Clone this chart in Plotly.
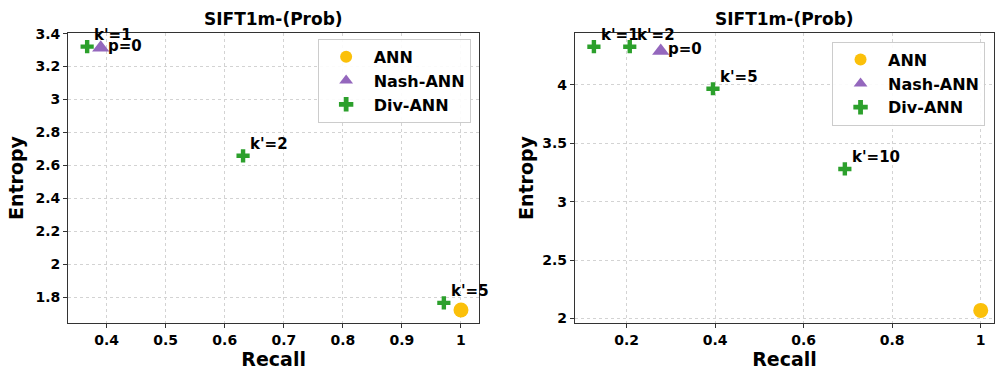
import plotly.graph_objects as go

title = "SIFT1m-(Prob)"

# Left panel data
l_ann_x, l_ann_y = [1.0], [1.721]
l_nash_x, l_nash_y, l_nash_lab = [0.39], [3.315], ["p=0"]
l_div_x = [0.367, 0.631, 0.971]
l_div_y = [3.321, 2.658, 1.764]
l_div_lab = ["k'=1", "k'=2", "k'=5"]

# Right panel data
r_ann_x, r_ann_y = [1.0], [2.07]
r_nash_x, r_nash_y, r_nash_lab = [0.277], [4.29], ["p=0"]
r_div_x = [0.126, 0.207, 0.395, 0.693]
r_div_y = [4.326, 4.326, 3.966, 3.28]
r_div_lab = ["k'=1", "k'=2", "k'=5", "k'=10"]

C_ANN = "#FBC00A"
C_NASH = "#9467BD"
C_DIV = "#2CA02C"
FONT = "DejaVu Sans"

fig = go.Figure()

def add_panel(xa, ya, leg, ann, nash, div):
    fig.add_trace(go.Scatter(x=ann[0], y=ann[1], mode="markers", name="<b>ANN</b>",
                             marker=dict(symbol="circle", size=15, color=C_ANN),
                             xaxis=xa, yaxis=ya, legend=leg))
    fig.add_trace(go.Scatter(x=nash[0], y=nash[1], mode="markers", name="<b>Nash-ANN</b>",
                             marker=dict(symbol="triangle-up", size=15, color=C_NASH),
                             xaxis=xa, yaxis=ya, legend=leg))
    fig.add_trace(go.Scatter(x=div[0], y=div[1], mode="markers", name="<b>Div-ANN</b>",
                             marker=dict(symbol="cross", size=11, color=C_DIV),
                             xaxis=xa, yaxis=ya, legend=leg))
    for x, y, t in zip(nash[0], nash[1], nash[2]):
        fig.add_annotation(x=x, y=y, text="<b>%s</b>" % t, xref=xa, yref=ya,
                           showarrow=False, xanchor="left", yanchor="middle",
                           xshift=5, yshift=2, font=dict(size=15, color="black", family=FONT))
    for x, y, t in zip(div[0], div[1], div[2]):
        fig.add_annotation(x=x, y=y, text="<b>%s</b>" % t, xref=xa, yref=ya,
                           showarrow=False, xanchor="left", yanchor="middle",
                           xshift=5, yshift=12, font=dict(size=15, color="black", family=FONT))

add_panel("x", "y", "legend", (l_ann_x, l_ann_y), (l_nash_x, l_nash_y, l_nash_lab),
          (l_div_x, l_div_y, l_div_lab))
add_panel("x2", "y2", "legend2", (r_ann_x, r_ann_y), (r_nash_x, r_nash_y, r_nash_lab),
          (r_div_x, r_div_y, r_div_lab))

axis_common = dict(showline=True, linecolor="#333", linewidth=1.2, mirror=True,
                   ticks="outside", ticklen=4, tickcolor="#333",
                   showgrid=True, gridcolor="#d3d3d3", griddash="dot", gridwidth=1,
                   zeroline=False,
                   tickfont=dict(size=14, color="black", family=FONT))
title_font = dict(size=19, color="black", family=FONT)

legend_common = dict(bgcolor="rgba(255,255,255,0.9)", bordercolor="#cccccc", borderwidth=1,
                     font=dict(size=16, color="black", family=FONT), itemsizing="constant",
                     itemwidth=45, xanchor="right", yanchor="top", tracegroupgap=0)

fig.update_layout(
    width=995, height=373,
    margin=dict(l=0, r=0, t=33, b=50),
    plot_bgcolor="white", paper_bgcolor="white",
    font=dict(family=FONT),
    xaxis=dict(domain=[0.0686, 0.4814], range=[0.335, 1.0305],
               tickvals=[0.4, 0.5, 0.6, 0.7, 0.8, 0.9, 1.0],
               ticktext=["<b>0.4</b>", "<b>0.5</b>", "<b>0.6</b>", "<b>0.7</b>", "<b>0.8</b>", "<b>0.9</b>", "<b>1</b>"],
               title=dict(text="<b>Recall</b>", font=title_font, standoff=3), **axis_common),
    yaxis=dict(domain=[0, 1], range=[1.642, 3.404],
               tickvals=[1.8, 2.0, 2.2, 2.4, 2.6, 2.8, 3.0, 3.2, 3.4],
               ticktext=["<b>1.8</b>", "<b>2</b>", "<b>2.2</b>", "<b>2.4</b>", "<b>2.6</b>", "<b>2.8</b>", "<b>3</b>", "<b>3.2</b>", "<b>3.4</b>"],
               title=dict(text="<b>Entropy</b>", font=title_font, standoff=6), **axis_common),
    xaxis2=dict(domain=[0.5779, 0.999], range=[0.0833, 1.03], anchor="y2",
                tickvals=[0.2, 0.4, 0.6, 0.8, 1.0],
                ticktext=["<b>0.2</b>", "<b>0.4</b>", "<b>0.6</b>", "<b>0.8</b>", "<b>1</b>"],
                title=dict(text="<b>Recall</b>", font=title_font, standoff=3), **axis_common),
    yaxis2=dict(domain=[0, 1], range=[1.962, 4.443], anchor="x2",
                tickvals=[2.0, 2.5, 3.0, 3.5, 4.0],
                ticktext=["<b>2</b>", "<b>2.5</b>", "<b>3</b>", "<b>3.5</b>", "<b>4</b>"],
                title=dict(text="<b>Entropy</b>", font=title_font, standoff=3), **axis_common),
    legend=dict(x=0.473, y=0.98, **legend_common),
    legend2=dict(x=0.99, y=0.97, **legend_common),
    showlegend=True,
)

for xc in [(0.0686 + 0.4814) / 2, (0.5779 + 0.999) / 2]:
    fig.add_annotation(x=xc, y=1, xref="paper", yref="paper", text="<b>%s</b>" % title,
                       showarrow=False, xanchor="center", yanchor="bottom", yshift=2,
                       font=dict(size=17, color="black", family=FONT))

fig.write_html("out.html")
